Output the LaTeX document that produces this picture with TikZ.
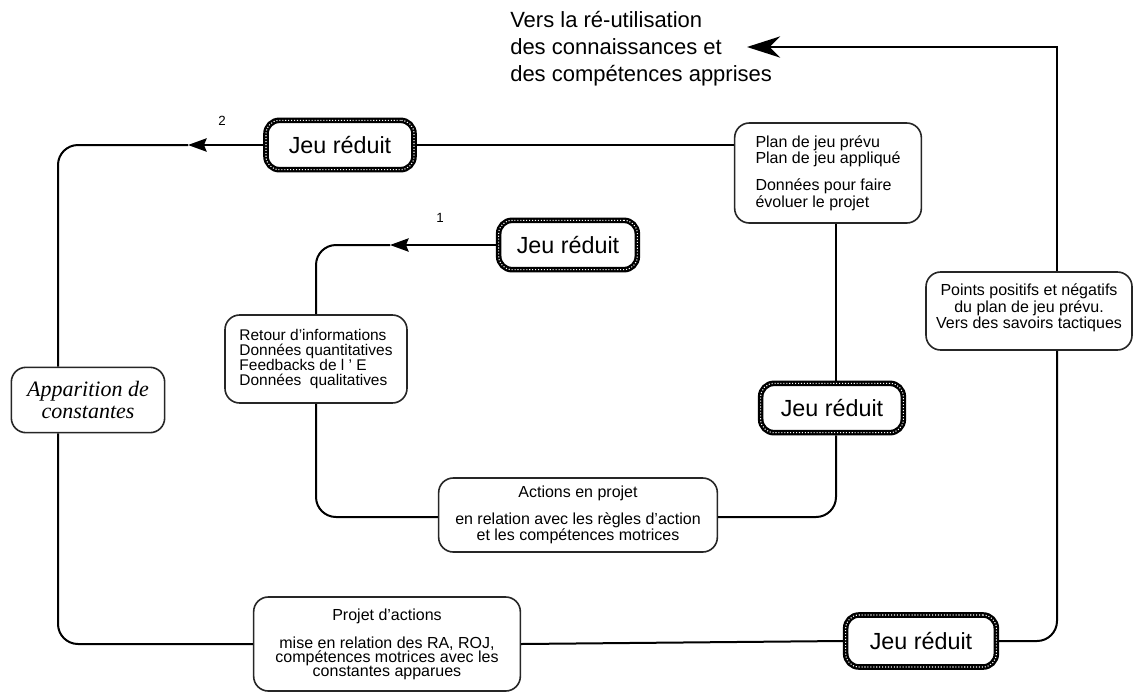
\documentclass[tikz,border=0pt]{standalone}
\usepackage{fontspec}
\setmainfont{Liberation Sans}
\newfontfamily\serifit{Liberation Serif}
\usetikzlibrary{arrows.meta}

\begin{document}
\begin{tikzpicture}[x=0.75pt,y=-0.75pt,
  conn/.style={line width=1.5pt, draw=black},
  box/.style={draw=black!85, line width=1.2pt, rounded corners=11pt, fill=white,
    align=center, inner sep=0pt, font=\fontsize{12}{10.4}\selectfont},
  jeu/.style={draw=black, line width=4.2pt, rounded corners=10pt, fill=white,
    minimum width=111pt, minimum height=37pt, inner sep=0pt,
    font=\fontsize{17.5}{20}\selectfont,
    postaction={draw=white, line width=0.8pt, dash pattern=on 0.8pt off 1.4pt}},
  numlab/.style={font=\fontsize{10}{11}\selectfont, inner sep=0pt},
  tipL/.style={-{Stealth[length=14pt,width=10pt,inset=2pt]}},
  tipS/.style={-{Stealth[length=25pt,width=16pt,inset=8pt]}}
]
\path[use as bounding box] (0,0) rectangle (1138,693);

% top text
\node[anchor=north west, align=left, inner sep=0pt, font=\fontsize{16.5}{20.3}\selectfont] (top) at (510,11)
  {Vers la ré-utilisation\\des connaissances et\\des compétences apprises};

% boxes
\node[box, minimum width=140pt, minimum height=75pt, align=left] (plan) at (828,173)
  {Plan de jeu prévu\\Plan de jeu appliqué\\[8pt]Données pour faire\\évoluer le projet};
\node[box, minimum width=136.5pt, minimum height=66pt, align=left, font=\fontsize{11.6}{10.6}\selectfont] (retour) at (316,359)
  {Retour d'informations\\Données quantitatives\\Feedbacks de l ' E\\Données\ \ qualitatives};
\node[box, minimum width=115pt, minimum height=49pt, font=\serifit\itshape\fontsize{16.5}{16.5}\selectfont] (appar) at (88,400)
  {Apparition de\\constantes};
\node[box, minimum width=154.5pt, minimum height=58.5pt] (points) at (1029,311)
  {Points positifs et négatifs\\du plan de jeu prévu.\\Vers des savoirs tactiques\\[-3pt]\mbox{}};
\node[box, minimum width=209pt, minimum height=55.5pt] (actions) at (578,515)
  {Actions en projet\\[8pt]en relation avec les règles d'action\\et les compétences motrices};
\node[box, minimum width=200pt, minimum height=70.5pt] (projet) at (387,644)
  {Projet d'actions\\[9pt]mise en relation des RA, ROJ,\\compétences motrices avec les\\constantes apparues};

\node[jeu] (J2) at (340,145) {Jeu réduit};
\node[jeu, minimum width=104pt] (J1) at (568,245) {Jeu réduit};
\node[jeu, minimum width=107pt] (J3) at (832,408) {Jeu réduit};
\node[jeu, minimum width=113pt, minimum height=39pt] (J4) at (921,641) {Jeu réduit};

\node[numlab] (n1) at (440,218) {1};
\node[numlab] (n2) at (222,121) {2};

% coordinates
\coordinate (a2) at (188,145);
\coordinate (cl) at (58,145);
\coordinate (cr) at (1057,641);
\coordinate (ctop) at (1057,47);
\coordinate (tipTop) at (747,47);
\coordinate (a1) at (390,245);
\coordinate (ri) at (836,517);

% outer loop
\draw[conn] (plan.west |- J2.east) -- (J2.east);
\draw[conn, tipL] (J2.west) -- (a2);
\draw[conn, rounded corners=15pt] (a2) -- (cl) -- (cl |- appar.north);
\draw[conn, rounded corners=15pt] (cl |- appar.south) -- (cl |- projet.west) -- (projet.west);
\draw[conn] (projet.east) -- (J4.west);
\draw[conn, rounded corners=15pt] (J4.east) -- (cr) -- (cr |- points.south);
\draw[conn, tipS] (cr |- points.north) -- (ctop) -- (tipTop);

% inner loop
\draw[conn] (ri |- plan.south) -- (ri |- J3.north);
\draw[conn, rounded corners=15pt] (ri |- J3.south) -- (ri) -- (actions.east |- ri);
\draw[conn, rounded corners=15pt] (actions.west |- ri) -- (retour.south |- ri) -- (retour.south);
\draw[conn, tipL] (J1.west) -- (a1);
\draw[conn, rounded corners=15pt] (a1) -- (retour.north |- a1) -- (retour.north);
\end{tikzpicture}
\end{document}
